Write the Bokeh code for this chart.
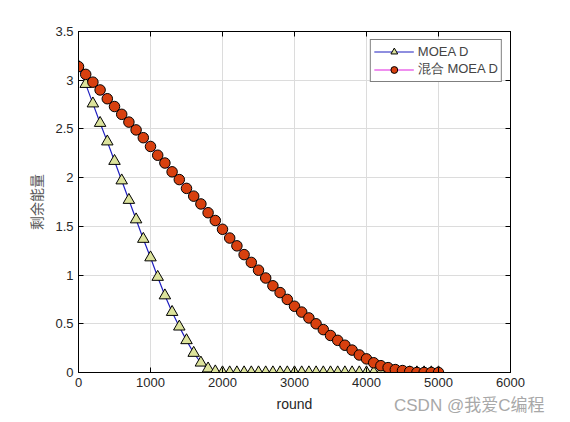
from bokeh.plotting import figure
from bokeh.models import LinearAxis, Range1d, FixedTicker, Legend, LegendItem, Div
from bokeh.layouts import column
from bokeh.embed import file_html
from bokeh.resources import INLINE

rounds = list(range(0, 5001, 100))
moead = [3.14, 2.96, 2.76, 2.56, 2.37, 2.17, 1.97, 1.77, 1.57, 1.37,
         1.18, 0.98, 0.79, 0.62, 0.47, 0.33, 0.20, 0.10, 0.04, 0.01] + [0.0] * 31
hybrid = [3.14, 3.06, 2.98, 2.90, 2.81, 2.73, 2.65, 2.57, 2.49, 2.41,
          2.32, 2.23, 2.15, 2.06, 1.98, 1.89, 1.81, 1.73, 1.64, 1.56,
          1.47, 1.38, 1.30, 1.21, 1.13, 1.05, 0.97, 0.89, 0.82, 0.75,
          0.68, 0.62, 0.56, 0.50, 0.44, 0.38, 0.33, 0.28, 0.23, 0.18,
          0.14, 0.10, 0.07, 0.05, 0.03, 0.02, 0.01, 0.0, 0.0, 0.0, 0.0]
x_ticks = [0, 1000, 2000, 3000, 4000, 5000, 6000]
y_ticks = [0, 0.5, 1, 1.5, 2, 2.5, 3, 3.5]
labels = ["MOEA D", "混合 MOEA D"]
watermark = "CSDN @我爱C编程"

FONT = "Liberation Sans"

p = figure(width=562, height=414, output_backend="svg", toolbar_location=None,
           x_range=Range1d(0, 6000), y_range=Range1d(0, 3.5),
           min_border_left=78, min_border_right=52, min_border_top=31, min_border_bottom=41)
p.outline_line_color = "black"
p.outline_line_width = 1

for ax in (p.xaxis[0], p.yaxis[0]):
    ax.major_tick_in = 5
    ax.major_tick_out = 0
    ax.minor_tick_in = 0
    ax.minor_tick_out = 0
    ax.axis_line_color = "black"
    ax.major_tick_line_color = "black"
    ax.major_label_text_font = FONT
    ax.major_label_text_font_size = "13px"
    ax.major_label_text_color = "#262626"
p.xaxis[0].ticker = FixedTicker(ticks=x_ticks)
p.yaxis[0].ticker = FixedTicker(ticks=y_ticks)
p.xaxis[0].major_label_overrides = {t: str(t) for t in x_ticks}
p.yaxis[0].major_label_overrides = {0: "0", 0.5: "0.5", 1: "1", 1.5: "1.5", 2: "2", 2.5: "2.5", 3: "3", 3.5: "3.5"}
p.xaxis[0].axis_label = "round"
p.xaxis[0].axis_label_text_font = FONT
p.xaxis[0].axis_label_text_font_size = "14px"
p.xaxis[0].axis_label_text_font_style = "normal"
p.xaxis[0].axis_label_text_color = "#262626"
p.xaxis[0].axis_label_standoff = 6
p.yaxis[0].axis_label = "剩余能量"
p.yaxis[0].axis_label_text_font = "Noto Sans CJK SC"
p.yaxis[0].axis_label_text_font_size = "14px"
p.yaxis[0].axis_label_text_font_style = "normal"
p.yaxis[0].axis_label_text_color = "#555555"
p.yaxis[0].axis_label_standoff = 6

for side in ("right", "above"):
    ax = LinearAxis(ticker=FixedTicker(ticks=y_ticks if side == "right" else x_ticks),
                    major_tick_in=5, major_tick_out=0, minor_tick_in=0, minor_tick_out=0,
                    major_label_text_font_size="0px", major_label_text_color=None,
                    axis_line_color="black", major_tick_line_color="black")
    p.add_layout(ax, side)

p.grid.grid_line_color = "#dcdcdc"
p.grid.grid_line_width = 1
p.xgrid.ticker = FixedTicker(ticks=x_ticks)
p.ygrid.ticker = FixedTicker(ticks=y_ticks)

l1 = p.line(rounds, moead, line_color="#1f1fbf", line_width=1.2)
s1 = p.scatter(rounds, moead, marker="triangle", size=11.5, fill_color="#dce39c",
               line_color="black", line_width=1)
l2 = p.line(rounds, hybrid, line_color="#e020e0", line_width=1.2)
s2 = p.scatter(rounds, hybrid, marker="circle", size=10.5, fill_color="#d8400f",
               line_color="black", line_width=1)

legend = Legend(items=[LegendItem(label=labels[0], renderers=[l1, s1]),
                       LegendItem(label=labels[1], renderers=[l2, s2])],
                location="top_right", margin=8, padding=3, spacing=0,
                glyph_width=40, glyph_height=17, label_standoff=4,
                label_text_font=FONT, label_text_font_size="13px",
                border_line_color="black", border_line_width=1,
                background_fill_alpha=1)
p.add_layout(legend)

wm = Div(text=watermark, width=175, height=22, margin=(-20, 0, 0, 394),
         styles={"font-family": "Liberation Sans, Noto Sans CJK SC, sans-serif",
                 "font-size": "17px", "color": "#a8a8a8", "white-space": "nowrap"})

open("out.html", "w").write(file_html(column(p, wm), INLINE))
